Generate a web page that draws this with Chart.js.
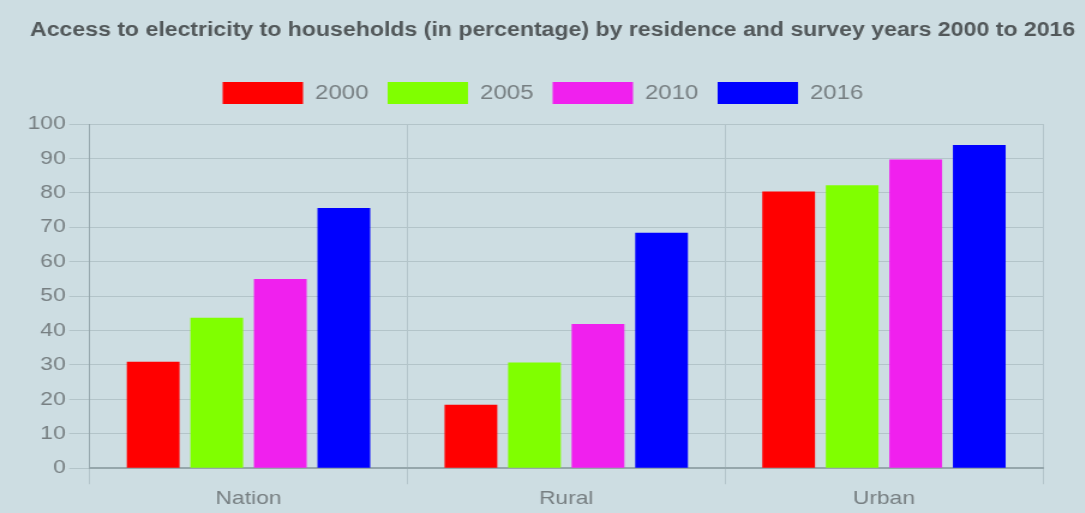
<!DOCTYPE html>
<html lang="en">
<head>
    <meta charset="UTF-8">
    <title>Access to electricity</title>
    <script src="https://cdn.jsdelivr.net/npm/chart.js"></script>
    <style>
        html, body { margin: 0; padding: 0; background: #cddde2; overflow: hidden; }
        /* chart is laid out narrower, then stretched horizontally */
        #wrap { width: 904px; height: 513px; transform: scaleX(1.2); transform-origin: 0 0; }
    </style>
</head>
<body>
<div id="wrap">
    <canvas id="electricityChart"></canvas>
</div>

<script>
    const residences = ['Nation', 'Rural', 'Urban'];
    const years = ['2000', '2005', '2010', '2016'];
    const values2000 = [30.9, 18.4, 80.4];
    const values2005 = [43.7, 30.7, 82.2];
    const values2010 = [55.0, 41.9, 89.7];
    const values2016 = [75.6, 68.4, 93.9];
    const yearColors = ['#ff0000', '#80ff00', '#f020ee', '#0000ff'];

    const seriesValues = [values2000, values2005, values2010, values2016];
    const fontFamily = 'Liberation Sans, Arial, sans-serif';

    // extra room under the legend; title widened and legend nudged right
    const headerTweaks = {
        id: 'headerTweaks',
        beforeInit(chart) {
            const fit = chart.legend.fit;
            chart.legend.fit = function () {
                fit.bind(chart.legend)();
                this.height += 10;
            };
        },
        afterLayout(chart) {
            chart.titleBlock.left = 25;
            chart.titleBlock.right = 896;
            chart.legend.left += 8;
            chart.legend.right += 8;
        }
    };

    const ctx = document.getElementById('electricityChart').getContext('2d');
    new Chart(ctx, {
        type: 'bar',
        data: {
            labels: residences,
            datasets: years.map((year, i) => ({
                label: year,
                data: seriesValues[i],
                backgroundColor: yearColors[i],
                borderWidth: 0,
                barPercentage: 0.83,
                categoryPercentage: 0.8
            }))
        },
        options: {
            responsive: true,
            maintainAspectRatio: false,
            animation: false,
            layout: {
                padding: { left: 20, right: 35, top: 4, bottom: 0 }
            },
            plugins: {
                title: {
                    display: true,
                    text: 'Access to electricity to households (in percentage) by residence and survey years 2000 to 2016',
                    color: '#52585a',
                    font: { family: fontFamily, size: 20, weight: 'bold' },
                    padding: { top: 14, bottom: 24 }
                },
                legend: {
                    position: 'top',
                    labels: {
                        boxWidth: 67,
                        boxHeight: 22,
                        color: '#777f82',
                        padding: 16,
                        font: { family: fontFamily, size: 20 }
                    }
                },
                tooltip: { enabled: false }
            },
            scales: {
                x: {
                    grid: {
                        color: '#b3c4c9',
                        tickLength: 16,
                        offset: true
                    },
                    border: { color: '#95a6ab', width: 2 },
                    ticks: {
                        color: '#777f82',
                        padding: 3,
                        font: { family: fontFamily, size: 19 }
                    }
                },
                y: {
                    min: 0,
                    max: 100,
                    grid: {
                        color: '#b3c4c9',
                        tickLength: 17
                    },
                    border: { color: '#95a6ab', width: 1 },
                    ticks: {
                        stepSize: 10,
                        color: '#777f82',
                        padding: 3,
                        font: { family: fontFamily, size: 19 }
                    }
                }
            }
        },
        plugins: [headerTweaks]
    });
</script>
</body>
</html>
